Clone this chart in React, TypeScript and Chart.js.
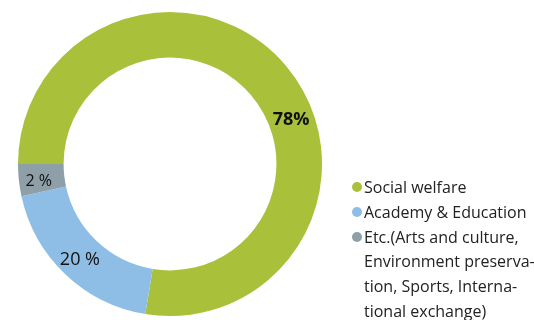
import React, { useEffect, useRef } from "react";
import { Chart, registerables } from "chart.js";

Chart.register(...registerables);

const categories = [
  "Social welfare",
  "Academy & Education",
  "Etc.(Arts and culture, Environment preservation, Sports, International exchange)",
];
const legendLines = [
  ["Social welfare"],
  ["Academy & Education"],
  ["Etc.(Arts and culture,", "Environment preserva-", "tion, Sports, Interna-", "tional exchange)"],
];
const shares = [77.6, 19.0, 3.4];
const sliceLabels = ["78%", "20 %", "2 %"];
const colors = ["#a9c13a", "#8ebee5", "#8e9fa8"];

const labelStyle = [
  { font: "bold 18px 'Open Sans'", frac: 0.571, dr: 0 },
  { font: "18px 'Open Sans'", frac: 0.5, dr: 1.5 },
  { font: "16px 'Open Sans'", frac: 0.42, dr: 3 },
];

const sliceLabelPlugin = {
  id: "sliceLabels",
  afterDatasetsDraw(chart: any) {
    const ctx = chart.ctx;
    const meta = chart.getDatasetMeta(0);
    meta.data.forEach((arc: any, i: number) => {
      const p = arc.getProps(["x", "y", "startAngle", "endAngle", "innerRadius", "outerRadius"], true);
      const st = labelStyle[i];
      const a = p.startAngle + st.frac * (p.endAngle - p.startAngle);
      const r = (p.innerRadius + p.outerRadius) / 2 + st.dr;
      ctx.save();
      ctx.font = st.font;
      ctx.fillStyle = "#111";
      ctx.textAlign = "center";
      ctx.textBaseline = "middle";
      ctx.fillText(sliceLabels[i], p.x + Math.cos(a) * r, p.y + Math.sin(a) * r + 1);
      ctx.restore();
    });
  },
};

export default function App() {
  const ref = useRef<HTMLCanvasElement>(null);
  useEffect(() => {
    document.body.style.margin = "0";
    const chart = new Chart(ref.current!, {
      type: "doughnut",
      data: {
        labels: categories,
        datasets: [{ data: shares, backgroundColor: colors, borderWidth: 0 }],
      },
      options: {
        responsive: false,
        animation: false,
        rotation: 270,
        cutout: "70%",
        layout: { padding: { left: 18, right: 212, top: 12, bottom: 4 } },
        plugins: { legend: { display: false }, tooltip: { enabled: false } },
      },
      plugins: [sliceLabelPlugin],
    });
    return () => chart.destroy();
  }, []);

  return (
    <div style={{ position: "relative", width: 534, height: 320, background: "#fff" }}>
      <canvas ref={ref} width={534} height={320} style={{ width: 534, height: 320, display: "block" }} />
      <div
        style={{
          position: "absolute",
          left: 352,
          top: 175,
          fontFamily: "'Open Sans', sans-serif",
          fontSize: 16,
          lineHeight: "24.8px",
          color: "#222",
        }}
      >
        {legendLines.map((lines, i) => (
          <div key={i} style={{ position: "relative", paddingLeft: 12 }}>
            <span
              style={{
                position: "absolute",
                left: 0,
                top: 7.4,
                width: 10,
                height: 10,
                borderRadius: "50%",
                background: colors[i],
              }}
            />
            {lines.map((l, j) => (
              <div key={j} style={{ whiteSpace: "nowrap" }}>{l}</div>
            ))}
          </div>
        ))}
      </div>
    </div>
  );
}
